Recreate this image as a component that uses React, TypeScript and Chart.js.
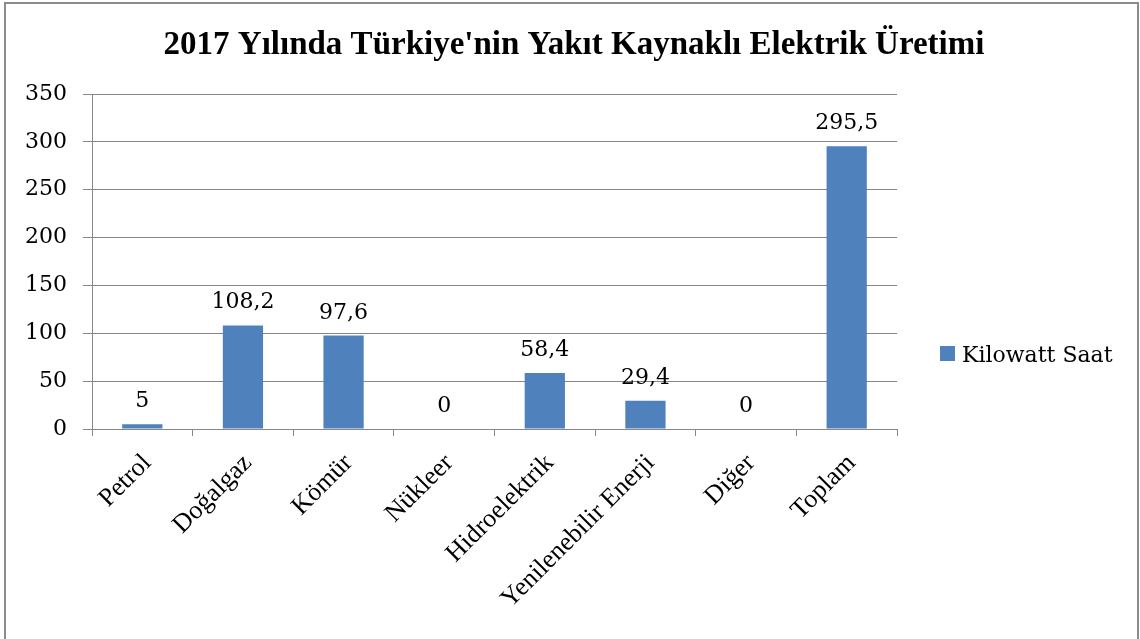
import React, { useEffect, useRef } from "react";
import { Chart, registerables } from "chart.js";

Chart.register(...registerables);

const TITLE = "2017 Yılında Türkiye'nin Yakıt Kaynaklı Elektrik Üretimi";
const categories = [
  "Petrol",
  "Doğalgaz",
  "Kömür",
  "Nükleer",
  "Hidroelektrik",
  "Yenilenebilir Enerji",
  "Diğer",
  "Toplam",
];
const seriesName = "Kilowatt Saat";
const values = [5, 108.2, 97.6, 0, 58.4, 29.4, 0, 295.5];
const yTicks = [0, 50, 100, 150, 200, 250, 300, 350];

const BAR_COLOR = "#4F81BD";
const GRID_COLOR = "#878787";
const CAMBRIA = "'DejaVu Serif', serif";
const TIMES = "'Liberation Serif', 'Times New Roman', serif";

const fmt = (v: number) => String(v).replace(".", ",");

const framePlugin = {
  id: "frame",
  beforeDraw(chart: any) {
    const { ctx, width, height } = chart;
    ctx.save();
    ctx.fillStyle = "#ffffff";
    ctx.fillRect(0, 0, width, height);
    ctx.strokeStyle = "#8c8c8c";
    ctx.lineWidth = 2;
    ctx.strokeRect(5, 3, 1133, height + 20);
    ctx.restore();
  },
};

const titlePlugin = {
  id: "customTitle",
  afterDraw(chart: any) {
    const { ctx } = chart;
    ctx.save();
    ctx.fillStyle = "#000";
    ctx.font = `bold 33px ${TIMES}`;
    ctx.textAlign = "center";
    ctx.textBaseline = "alphabetic";
    ctx.fillText(TITLE, 574, 54);
    ctx.restore();
  },
};

const dataLabelPlugin = {
  id: "dataLabels",
  afterDatasetsDraw(chart: any) {
    const { ctx } = chart;
    const meta = chart.getDatasetMeta(0);
    const data = chart.data.datasets[0].data as number[];
    ctx.save();
    ctx.fillStyle = "#000";
    ctx.font = `22px ${CAMBRIA}`;
    ctx.textAlign = "center";
    ctx.textBaseline = "alphabetic";
    meta.data.forEach((bar: any, i: number) => {
      ctx.fillText(fmt(data[i]), bar.x, bar.y - 17);
    });
    ctx.restore();
  },
};

const legendPlugin = {
  id: "customLegend",
  afterDraw(chart: any) {
    const { ctx } = chart;
    const ds = chart.data.datasets[0];
    ctx.save();
    ctx.fillStyle = ds.backgroundColor;
    ctx.fillRect(940, 346, 15, 15);
    ctx.fillStyle = "#000";
    ctx.font = `22px ${CAMBRIA}`;
    ctx.textAlign = "left";
    ctx.textBaseline = "alphabetic";
    ctx.fillText(ds.label, 962, 362);
    ctx.restore();
  },
};

export default function App() {
  const canvasRef = useRef<HTMLCanvasElement | null>(null);

  useEffect(() => {
    document.body.style.margin = "0";
    const canvas = canvasRef.current;
    if (!canvas) return;
    const chart = new Chart(canvas, {
      type: "bar",
      data: {
        labels: categories,
        datasets: [
          {
            label: seriesName,
            data: values,
            backgroundColor: BAR_COLOR,
            borderWidth: 0,
            categoryPercentage: 1,
            barPercentage: 0.4,
          },
        ],
      },
      options: {
        animation: false,
        responsive: false,
        maintainAspectRatio: false,
        devicePixelRatio: 1,
        layout: { padding: { left: 0, top: 94, right: 243, bottom: 0 } },
        plugins: {
          legend: { display: false },
          title: { display: false },
          tooltip: { enabled: false },
        },
        scales: {
          x: {
            afterFit: (s: any) => {
              s.height = 210;
            },
            grid: {
              offset: true,
              drawOnChartArea: false,
              drawTicks: true,
              tickLength: 7,
              color: GRID_COLOR,
            },
            border: { color: GRID_COLOR, width: 1 },
            ticks: {
              autoSkip: false,
              maxRotation: 45,
              minRotation: 45,
              color: "#000",
              padding: 12,
              labelOffset: 5,
              font: { family: TIMES, size: 26 },
            },
          },
          y: {
            min: yTicks[0],
            max: yTicks[yTicks.length - 1],
            afterFit: (s: any) => {
              s.width = 92;
            },
            afterBuildTicks: (s: any) => {
              s.ticks = yTicks.map((v) => ({ value: v }));
            },
            grid: {
              color: GRID_COLOR,
              tickLength: 9,
              lineWidth: 1,
            },
            border: { color: GRID_COLOR, width: 1 },
            ticks: {
              color: "#000",
              padding: 16,
              font: { family: CAMBRIA, size: 22 },
            },
          },
        },
      },
      plugins: [framePlugin, titlePlugin, dataLabelPlugin, legendPlugin],
    });
    return () => chart.destroy();
  }, []);

  return (
    <div style={{ width: 1140, height: 639, position: "relative" }}>
      <canvas
        ref={canvasRef}
        width={1140}
        height={639}
        style={{ width: 1140, height: 639, display: "block" }}
      />
    </div>
  );
}
